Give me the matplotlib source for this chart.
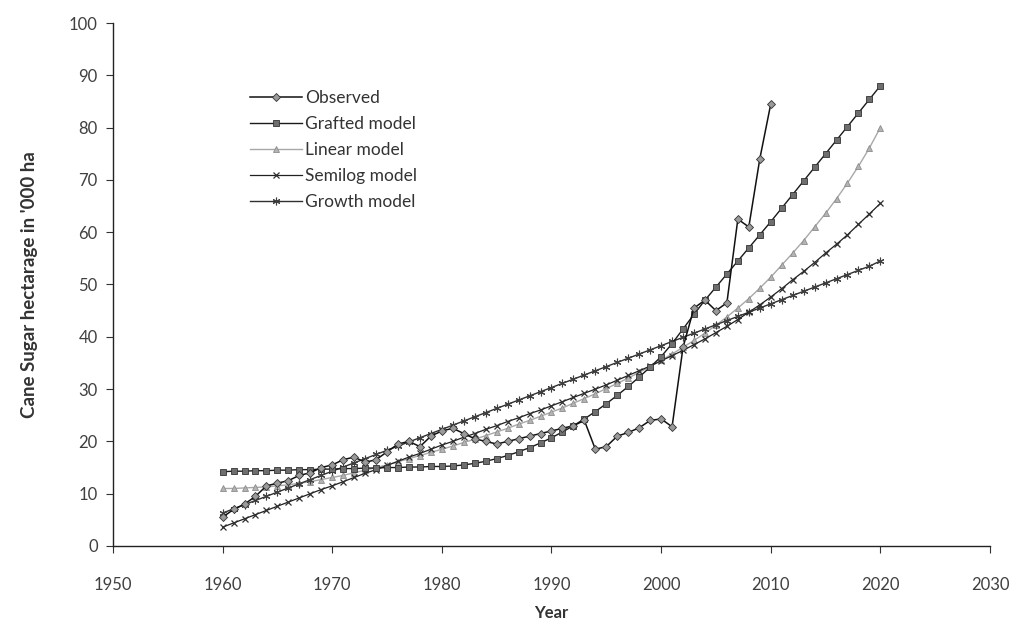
import matplotlib
matplotlib.use("Agg")
import matplotlib.pyplot as plt

plt.rcParams['font.family'] = ['Lato', 'DejaVu Sans']

obs_years = list(range(1960, 2011))
observed = [5.5, 7.0, 8.0, 9.5, 11.5, 12.0, 12.5, 13.5, 14.0, 15.0,
            15.5, 16.5, 17.0, 16.0, 16.5, 18.0, 19.5, 20.0, 19.0, 21.0,
            22.0, 22.5, 21.5, 20.5, 20.0, 19.5, 20.0, 20.5, 21.0, 21.5,
            22.0, 22.5, 23.0, 24.0, 18.5, 19.0, 21.0, 21.7, 22.6, 24.0,
            24.3, 22.8, 38.0, 45.5, 47.0, 45.0, 46.5, 62.5, 61.0, 74.0,
            84.5]

model_years = list(range(1960, 2021))
grafted = [14.2, 14.3, 14.3, 14.4, 14.4, 14.5, 14.5, 14.6, 14.6, 14.7,
           14.7, 14.8, 14.8, 14.9, 14.9, 15.0, 15.0, 15.1, 15.1, 15.2,
           15.2, 15.3, 15.5, 15.8, 16.2, 16.7, 17.3, 18.0, 18.8, 19.7,
           20.7, 21.8, 23.0, 24.3, 25.7, 27.2, 28.8, 30.5, 32.3, 34.2,
           36.2, 38.7, 41.5, 44.3, 47.0, 49.5, 52.0, 54.5, 57.0, 59.5,
           62.0, 64.6, 67.2, 69.8, 72.4, 75.0, 77.6, 80.2, 82.8, 85.4,
           88.0]
linear = [11.0, 11.0, 11.1, 11.2, 11.3, 11.5, 11.7, 12.0, 12.3, 12.7,
          13.1, 13.5, 14.0, 14.5, 15.0, 15.5, 16.1, 16.7, 17.3, 17.9,
          18.5, 19.1, 19.8, 20.4, 21.1, 21.8, 22.5, 23.3, 24.0, 24.8,
          25.6, 26.4, 27.3, 28.2, 29.1, 30.1, 31.1, 32.1, 33.2, 34.3,
          35.5, 36.7, 38.0, 39.3, 40.7, 42.2, 43.8, 45.5, 47.3, 49.3,
          51.4, 53.7, 56.0, 58.4, 61.0, 63.6, 66.4, 69.4, 72.6, 76.1,
          80.0]
semilog = [3.6, 4.4, 5.2, 6.0, 6.8, 7.6, 8.4, 9.2, 10.0, 10.8,
           11.5, 12.3, 13.1, 13.9, 14.6, 15.4, 16.2, 17.0, 17.7, 18.5,
           19.3, 20.0, 20.8, 21.5, 22.3, 23.0, 23.8, 24.5, 25.3, 26.0,
           26.8, 27.6, 28.4, 29.2, 30.0, 30.8, 31.7, 32.6, 33.5, 34.4,
           35.4, 36.4, 37.4, 38.5, 39.6, 40.8, 42.0, 43.3, 44.7, 46.1,
           47.6, 49.2, 50.9, 52.5, 54.2, 56.0, 57.7, 59.5, 61.5, 63.5,
           65.5]
growth = [6.3, 7.1, 7.9, 8.7, 9.5, 10.3, 11.1, 11.9, 12.7, 13.5,
          14.3, 15.1, 15.9, 16.7, 17.5, 18.3, 19.1, 19.9, 20.7, 21.5,
          22.3, 23.1, 23.9, 24.7, 25.5, 26.3, 27.1, 27.9, 28.7, 29.5,
          30.3, 31.1, 31.9, 32.7, 33.5, 34.3, 35.1, 35.9, 36.7, 37.5,
          38.3, 39.1, 39.9, 40.7, 41.5, 42.3, 43.1, 43.9, 44.7, 45.5,
          46.3, 47.1, 47.9, 48.7, 49.5, 50.3, 51.1, 51.9, 52.7, 53.5,
          54.5]

x_ticks = [1950, 1960, 1970, 1980, 1990, 2000, 2010, 2020, 2030]
y_ticks = [0, 10, 20, 30, 40, 50, 60, 70, 80, 90, 100]

fig = plt.figure(figsize=(10.16, 6.32), dpi=100)
ax = fig.add_axes([0.1112, 0.1361, 0.8632, 0.8275])

ax.plot(model_years, linear, color='#a8a8a8', lw=1.0, marker='^', ms=5,
        mfc='#b4b4b4', mec='#8c8c8c', mew=0.6, label='Linear model', zorder=2)
ax.plot(model_years, growth, color='#303030', lw=1.0, marker=(6, 2, 0), ms=5.5,
        mfc='#606060', mec='#404040', mew=0.8, label='Growth model', zorder=3)
ax.plot(model_years, semilog, color='#202020', lw=0.9, marker='x', ms=4.5,
        mec='#303030', mew=0.9, label='Semilog model', zorder=3)
ax.plot(model_years, grafted, color='#1a1a1a', lw=1.0, marker='s', ms=5,
        mfc='#6e6e6e', mec='#333333', mew=0.6, label='Grafted model', zorder=4)
ax.plot(obs_years, observed, color='#111111', lw=1.1, marker='D', ms=4,
        mfc='#9a9a9a', mec='#333333', mew=0.6, label='Observed', zorder=5)

ax.set_xlim(1950, 2030)
ax.set_ylim(0, 100)
ax.set_xticks(x_ticks)
ax.set_yticks(y_ticks)
ax.tick_params(axis='both', direction='out', length=5, width=0.8,
               colors='#333333', labelsize=12, labelcolor='#404040')
ax.tick_params(axis='x', pad=17)
ax.tick_params(axis='y', pad=6)
for side in ('top', 'right'):
    ax.spines[side].set_visible(False)
for side in ('left', 'bottom'):
    ax.spines[side].set_color('#222222')
    ax.spines[side].set_linewidth(1.0)

ax.set_xlabel('Year', fontsize=12, fontweight='bold', color='#333333', labelpad=9)
ax.set_ylabel("Cane Sugar hectarage in '000 ha", fontsize=13.5, fontweight='bold',
              color='#333333', labelpad=22)

handles, labels = ax.get_legend_handles_labels()
order = ['Observed', 'Grafted model', 'Linear model', 'Semilog model', 'Growth model']
hmap = dict(zip(labels, handles))
leg = ax.legend([hmap[k] for k in order], order, loc='upper left',
                bbox_to_anchor=(0.148, 0.885), frameon=False, fontsize=12.5,
                handlelength=3.0, handletextpad=0.2, labelspacing=0.58,
                borderaxespad=0)
for t in leg.get_texts():
    t.set_color('#333333')

fig.savefig('out.png', dpi=100, facecolor='white')
